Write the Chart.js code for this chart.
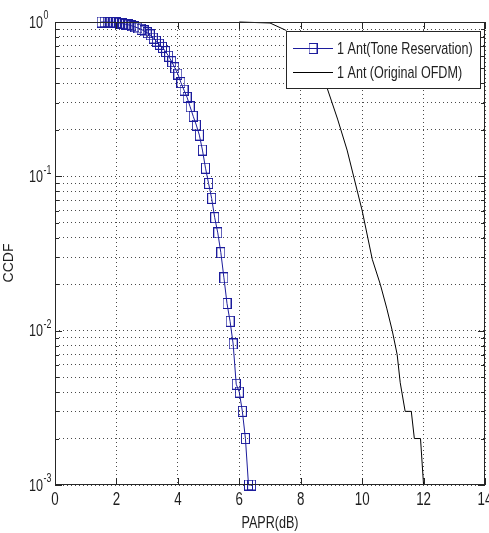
<!DOCTYPE html>
<html><head><meta charset="utf-8">
<script src="https://cdn.jsdelivr.net/npm/chart.js@4/dist/chart.umd.min.js"></script>
<style>html,body{margin:0;padding:0;background:#fff;overflow:hidden}#wrap{position:relative;width:489px;height:533px}</style>
</head><body><div id="wrap"><canvas id="c" width="489" height="533"></canvas></div>
<script>
// ---- data ----
const toneX = [1.5,1.6,1.7,1.8,1.9,2.0,2.1,2.2,2.3,2.4,2.5,2.6,2.7,2.8,2.9,3.0,3.1,3.2,3.3,3.4,3.5,3.6,3.7,3.8,3.9,4.0,4.1,4.2,4.3,4.4,4.5,4.6,4.7,4.8,4.9,5.0,5.1,5.2,5.3,5.4,5.5,5.6,5.7,5.8,5.9,6.0,6.1,6.2,6.3,6.4];
const toneY = [1.0,1.0,1.0,0.999,0.997,0.992,0.983,0.975,0.966,0.958,0.945,0.930,0.915,0.898,0.875,0.852,0.826,0.787,0.752,0.718,0.685,0.643,0.600,0.553,0.505,0.460,0.405,0.362,0.325,0.282,0.245,0.215,0.185,0.148,0.113,0.090,0.072,0.054,0.043,0.032,0.022,0.015,0.0115,0.0082,0.0045,0.004,0.003,0.002,0.001,0.001];
const origX = [6.0,7.0,7.5,8.0,8.5,8.86,9.2,9.51,10.0,10.33,10.59,10.8,10.98,11.14,11.24,11.4,11.6,11.7,11.9,12.0];
const origY = [1.0,0.985,0.887,0.71,0.50,0.373,0.235,0.148,0.060,0.029,0.020,0.014,0.010,0.007,0.0046,0.003,0.003,0.002,0.002,0.001];
const seriesNames = ['1 Ant(Tone Reservation)', '1 Ant (Original OFDM)'];
const xTicks = [0,2,4,6,8,10,12,14];
const yGrid = [0.001,0.002,0.003,0.004,0.005,0.006,0.007,0.008,0.009,0.01,0.02,0.03,0.04,0.05,0.06,0.07,0.08,0.09,0.1,0.2,0.3,0.4,0.5,0.6,0.7,0.8,0.9,1];
const yDecades = [0.001,0.01,0.1,1];
const yExponents = ['-3','-2','-1','0'];
const xTitle = 'PAPR(dB)';
const yTitle = 'CCDF';

// ---- styles ----
const BLUE = '#1c1c9c';
const TXT = '#1e1e1e';
const SX = 0.74;  // horizontal squeeze of text as in the reference
const FAM = '"Liberation Sans", Arial, sans-serif';

function makeMarker(){
  const c = document.createElement('canvas');
  c.width = 9; c.height = 11;
  const g = c.getContext('2d');
  g.strokeStyle = BLUE; g.lineWidth = 1;
  g.strokeRect(0.5,0.5,8,10);
  return c;
}
const marker = makeMarker();

function txt(ctx, s, x, y, size, align, base){
  ctx.save();
  ctx.translate(x,y);
  ctx.scale(SX,1);
  ctx.font = size + 'px ' + FAM;
  ctx.fillStyle = TXT;
  ctx.textAlign = align; ctx.textBaseline = base;
  ctx.fillText(s,0,0);
  ctx.restore();
}

const deco = {
  id: 'deco',
  afterDraw(chart){
    const ctx = chart.ctx;
    const a = chart.chartArea;
    const xs = chart.scales.x, ys = chart.scales.y;
    ctx.save();
    // box
    ctx.strokeStyle = '#262626'; ctx.lineWidth = 1;
    ctx.strokeRect(Math.round(a.left)+0.5, Math.round(a.top)+0.5, Math.round(a.right-a.left)-1, Math.round(a.bottom-a.top)-1);
    // inward ticks
    ctx.beginPath();
    xTicks.forEach(v=>{
      const px = Math.round(xs.getPixelForValue(v))+0.5;
      ctx.moveTo(px, a.bottom); ctx.lineTo(px, a.bottom-7);
      ctx.moveTo(px, a.top); ctx.lineTo(px, a.top+7);
    });
    yGrid.forEach(v=>{
      const py = Math.round(ys.getPixelForValue(v))+0.5;
      const L = yDecades.includes(v) ? 7 : 4;
      ctx.moveTo(a.left, py); ctx.lineTo(a.left+L, py);
      ctx.moveTo(a.right, py); ctx.lineTo(a.right-L, py);
    });
    ctx.stroke();
    // x tick labels
    xTicks.forEach(v=>{
      txt(ctx, String(v), xs.getPixelForValue(v), 500, 18, 'center', 'middle');
    });
    // y tick labels (10 with exponent)
    yDecades.forEach((v,i)=>{
      const py = ys.getPixelForValue(v);
      txt(ctx, '10', 43, py+1, 17, 'right', 'middle');
      txt(ctx, yExponents[i], 43.5, py-6, 12, 'left', 'middle');
    });
    // axis titles
    txt(ctx, xTitle, (a.left+a.right)/2, 523, 17, 'center', 'middle');
    ctx.save();
    ctx.translate(9, 263);
    ctx.rotate(-Math.PI/2);
    ctx.font = '14px ' + FAM; ctx.fillStyle = TXT;
    ctx.textAlign = 'center'; ctx.textBaseline = 'middle';
    ctx.fillText(yTitle, 0, 0);
    ctx.restore();
    // legend
    const lx = 286.5, ly = 31.5, lw = 194, lh = 57;
    ctx.fillStyle = '#fff';
    ctx.fillRect(lx, ly, lw, lh);
    ctx.strokeStyle = '#262626'; ctx.lineWidth = 1;
    ctx.strokeRect(lx, ly, lw, lh);
    const rows = [48, 72];
    ctx.lineWidth = 1;
    ctx.strokeStyle = BLUE;
    ctx.beginPath(); ctx.moveTo(293, rows[0]+0.5); ctx.lineTo(333, rows[0]+0.5); ctx.stroke();
    ctx.drawImage(marker, 313-4.5, rows[0]-5);
    ctx.strokeStyle = '#000';
    ctx.beginPath(); ctx.moveTo(293, rows[1]+0.5); ctx.lineTo(333, rows[1]+0.5); ctx.stroke();
    txt(ctx, seriesNames[0], 337, rows[0]+1, 17, 'left', 'middle');
    txt(ctx, seriesNames[1], 337, rows[1]+1, 17, 'left', 'middle');
    ctx.restore();
  }
};

new Chart(document.getElementById('c'), {
  type: 'line',
  data: {
    datasets: [
      { label: seriesNames[0], data: toneX.map((x,i)=>({x:x, y:toneY[i]})),
        borderColor: BLUE, borderWidth: 1, backgroundColor: 'rgba(0,0,0,0)',
        pointStyle: marker, pointRadius: 5, pointHoverRadius: 5, tension: 0, clip: false },
      { label: seriesNames[1], data: origX.map((x,i)=>({x:x, y:origY[i]})),
        borderColor: '#000', borderWidth: 1, backgroundColor: 'rgba(0,0,0,0)',
        pointRadius: 0, tension: 0, clip: false }
    ]
  },
  options: {
    responsive: false, animation: false, devicePixelRatio: 1,
    events: [],
    layout: { padding: { top: 22, right: 4, bottom: 0, left: 0 }, autoPadding: false },
    plugins: { legend: { display: false }, tooltip: { enabled: false }, title: { display: false } },
    scales: {
      x: {
        type: 'linear', min: 0, max: 14,
        ticks: { display: false },
        afterBuildTicks: s => { s.ticks = xTicks.map(v=>({value:v})); },
        afterFit: s => { s.height = 48; },
        grid: { color: '#4a4a4a', lineWidth: 1, drawTicks: false },
        border: { display: false, dash: [1,3] }
      },
      y: {
        type: 'logarithmic', min: 0.001, max: 1,
        ticks: { display: false },
        afterBuildTicks: s => { s.ticks = yGrid.map(v=>({value:v})); },
        afterFit: s => { s.width = 55; },
        grid: { color: '#4a4a4a', lineWidth: 1, drawTicks: false },
        border: { display: false, dash: [1,3] }
      }
    }
  },
  plugins: [deco]
});
</script>
</body></html>
